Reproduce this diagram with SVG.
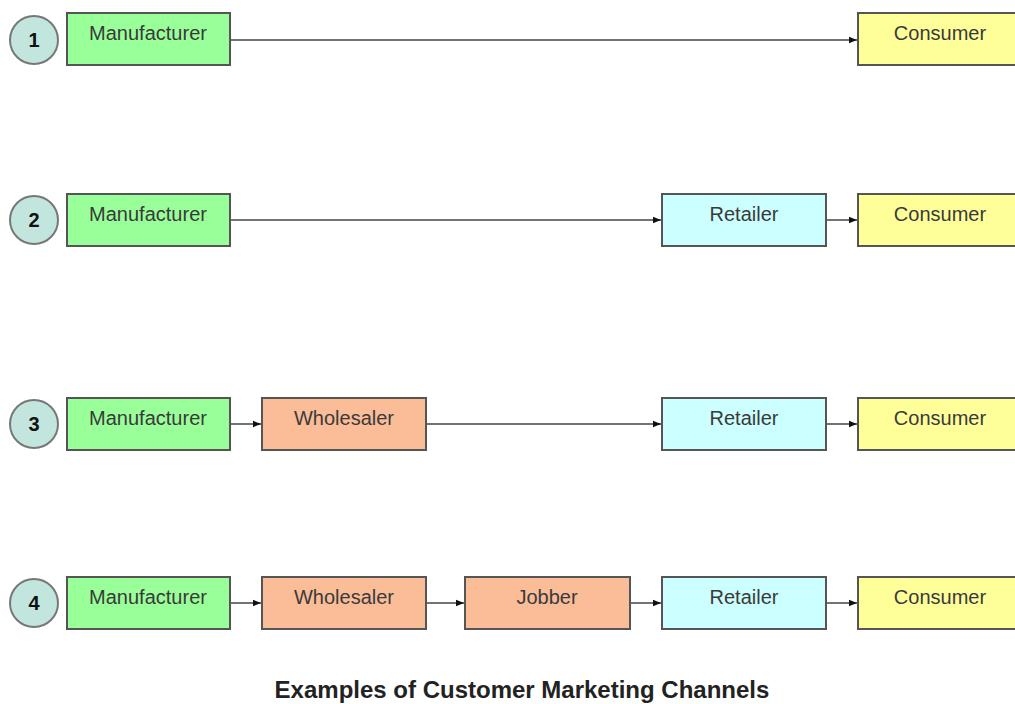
<svg xmlns="http://www.w3.org/2000/svg" width="1015" height="704" viewBox="0 0 1015 704">
<style>
.box{stroke:#555;stroke-width:2}
.m{fill:#99FF99}.w{fill:#FBBC98}.r{fill:#CCFFFF}.c{fill:#FFFF99}
.lbl{font-family:"Liberation Sans",Arial,sans-serif;font-size:20px;fill:#3a3a3a;text-anchor:middle}
.num{font-family:"Liberation Sans",Arial,sans-serif;font-size:20px;font-weight:bold;fill:#111;text-anchor:middle}
.circ{fill:#C2E6DE;stroke:#777;stroke-width:2}
.con{stroke:#444;stroke-width:1.5;fill:none;marker-end:url(#ah)}
.title{font-family:"Liberation Sans",Arial,sans-serif;font-size:24px;font-weight:bold;fill:#222;text-anchor:middle}
</style>
<defs>
<marker id="ah" viewBox="0 0 10 10" refX="10" refY="5" markerWidth="8" markerHeight="8" markerUnits="userSpaceOnUse" orient="auto">
<path d="M0,1 L10,5 L0,9 Z" fill="#111"/>
</marker>
</defs>
<rect width="1015" height="704" fill="#fff"/>
<g id="connectors">
<line class="con" x1="231" y1="40" x2="857" y2="40"/>
<line class="con" x1="231" y1="220" x2="661" y2="220"/>
<line class="con" x1="827" y1="220" x2="857" y2="220"/>
<line class="con" x1="231" y1="424" x2="261" y2="424"/>
<line class="con" x1="427" y1="424" x2="661" y2="424"/>
<line class="con" x1="827" y1="424" x2="857" y2="424"/>
<line class="con" x1="231" y1="603" x2="261" y2="603"/>
<line class="con" x1="427" y1="603" x2="464" y2="603"/>
<line class="con" x1="631" y1="603" x2="661" y2="603"/>
<line class="con" x1="827" y1="603" x2="857" y2="603"/>
</g>
<g id="n1"><circle class="circ" cx="34" cy="40" r="24"/><text class="num" x="34" y="47">1</text></g>
<g id="n2"><circle class="circ" cx="34" cy="220" r="24"/><text class="num" x="34" y="227">2</text></g>
<g id="n3"><circle class="circ" cx="34" cy="424" r="24"/><text class="num" x="34" y="431">3</text></g>
<g id="n4"><circle class="circ" cx="34" cy="603" r="24"/><text class="num" x="34" y="610">4</text></g>

<g id="m1"><rect class="box m" x="67" y="13" width="163" height="52"/><text class="lbl" x="148" y="40">Manufacturer</text></g>
<g id="c1"><rect class="box c" x="858" y="13" width="163" height="52"/><text class="lbl" x="940" y="40">Consumer</text></g>

<g id="m2"><rect class="box m" x="67" y="194" width="163" height="52"/><text class="lbl" x="148" y="221">Manufacturer</text></g>
<g id="r2"><rect class="box r" x="662" y="194" width="164" height="52"/><text class="lbl" x="744" y="221">Retailer</text></g>
<g id="c2"><rect class="box c" x="858" y="194" width="163" height="52"/><text class="lbl" x="940" y="221">Consumer</text></g>

<g id="m3"><rect class="box m" x="67" y="398" width="163" height="52"/><text class="lbl" x="148" y="425">Manufacturer</text></g>
<g id="w3"><rect class="box w" x="262" y="398" width="164" height="52"/><text class="lbl" x="344" y="425">Wholesaler</text></g>
<g id="r3"><rect class="box r" x="662" y="398" width="164" height="52"/><text class="lbl" x="744" y="425">Retailer</text></g>
<g id="c3"><rect class="box c" x="858" y="398" width="163" height="52"/><text class="lbl" x="940" y="425">Consumer</text></g>

<g id="m4"><rect class="box m" x="67" y="577" width="163" height="52"/><text class="lbl" x="148" y="604">Manufacturer</text></g>
<g id="w4"><rect class="box w" x="262" y="577" width="164" height="52"/><text class="lbl" x="344" y="604">Wholesaler</text></g>
<g id="j4"><rect class="box w" x="465" y="577" width="165" height="52"/><text class="lbl" x="547" y="604">Jobber</text></g>
<g id="r4"><rect class="box r" x="662" y="577" width="164" height="52"/><text class="lbl" x="744" y="604">Retailer</text></g>
<g id="c4"><rect class="box c" x="858" y="577" width="163" height="52"/><text class="lbl" x="940" y="604">Consumer</text></g>

<text class="title" x="522" y="698">Examples of Customer Marketing Channels</text>
</svg>
